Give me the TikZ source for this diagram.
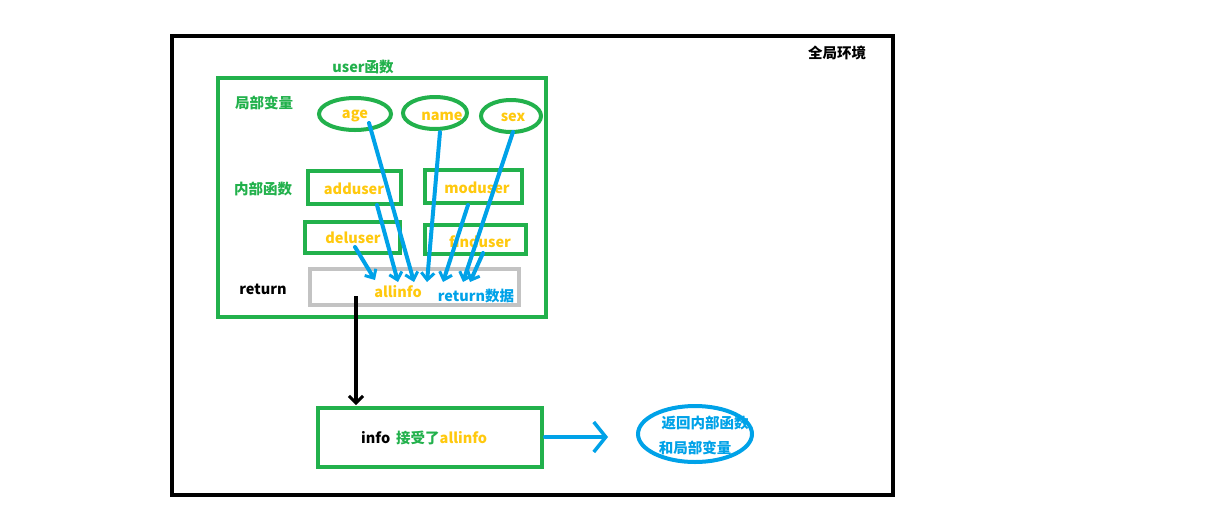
\documentclass[tikz,border=0pt]{standalone}
\usepackage{fontspec}
\setmainfont{Noto Sans CJK SC}
\usetikzlibrary{arrows.meta}
\definecolor{pgreen}{HTML}{22B14C}
\definecolor{pyellow}{HTML}{FFC90E}
\definecolor{pblue}{HTML}{00A2E8}
\definecolor{pgray}{HTML}{C3C3C3}
\begin{document}
\begin{tikzpicture}[x=1pt,y=-1pt,
  txt/.style={font=\fontsize{14.5}{16}\selectfont\bfseries, inner sep=0pt},
  gbox/.style={draw=pgreen, line width=4pt},
  barrow/.style={draw=pblue, line width=4pt, line cap=round, -{Straight Barb[length=7pt,width=13pt,line width=3pt]}},
]
\useasboundingbox (0,0) rectangle (1225,515);
\fill[white] (0,0) rectangle (1225,515);
% global
\draw[line width=4pt] (172,36) rectangle (893,495);
\node[txt] (glob) at (837,53) {全局环境};
% user function
\node[txt, text=pgreen] (ulab) at (363,67) {user函数};
\draw[gbox] (218,78) rectangle (546,317);
\node[txt, text=pgreen] (locv) at (264,103) {局部变量};
\node[txt, text=pgreen] (innf) at (263,189) {内部函数};
\node[txt] (ret) at (263,289) {return};
% ellipses
\draw[draw=pgreen, line width=4pt] (355,114) ellipse [x radius=36, y radius=16];
\draw[draw=pgreen, line width=4pt] (435,113) ellipse [x radius=32, y radius=16];
\draw[draw=pgreen, line width=4pt] (511,116) ellipse [x radius=30, y radius=16];
\node[txt, text=pyellow] (age) at (355,116) {age};
\node[txt, text=pyellow] (name) at (442,116) {name};
\node[txt, text=pyellow] (sex) at (513,117) {sex};
% function boxes
\draw[gbox] (308,171) rectangle (401,204);
\draw[gbox] (425,170) rectangle (522,203);
\draw[gbox] (305,222) rectangle (400,253);
\draw[gbox] (425,225) rectangle (526,254);
\node[txt, text=pyellow] (add) at (354,189) {adduser};
\node[txt, text=pyellow] (mod) at (477,188) {moduser};
\node[txt, text=pyellow] (del) at (353,238) {deluser};
\node[txt, text=pyellow] (find) at (480,242) {finduser};
% return box
\draw[draw=pgray, line width=4pt] (310,269) rectangle (519,305);
\node[txt, text=pyellow] (all) at (398,292) {allinfo};
\node[txt, text=pblue] (retd) at (476,296) {return数据};
% blue arrows
\coordinate (a1s) at (369,123); \coordinate (a1e) at (414,282);
\coordinate (a2s) at (377,205); \coordinate (a2e) at (398,282);
\coordinate (a3s) at (355,247); \coordinate (a3e) at (375,280);
\coordinate (a4s) at (440,132); \coordinate (a4e) at (427,282);
\coordinate (a5s) at (468,205); \coordinate (a5e) at (443,282);
\coordinate (a6s) at (513,132); \coordinate (a6e) at (463,282);
\coordinate (a7s) at (483,253); \coordinate (a7e) at (470,282);
\foreach \i in {1,...,7} {\draw[barrow] (a\i s) -- (a\i e);}
% black arrow
\coordinate (bs) at (356,296);
\coordinate (be) at (356,405);
\draw[line width=4pt, -{Straight Barb[length=7pt,width=14pt,line width=3pt]}] (bs) -- (be);
% info box
\draw[gbox] (318,408) rectangle (542,467);
\node[txt, anchor=west] (info) at (361,438) {info\hspace{6pt}\textcolor{pgreen}{接受了}\textcolor{pyellow}{allinfo}};
% right arrow
\coordinate (rs) at (545,437);
\coordinate (re) at (608,437);
\draw[draw=pblue, line width=4pt, line cap=round, -{Straight Barb[length=12pt,width=30pt,line width=3.5pt]}] (rs) -- (re);
% result ellipse
\draw[draw=pblue, line width=4pt] (695,434) ellipse [x radius=57, y radius=28];
\node[txt, text=pblue] (r1) at (705,423) {返回内部函数};
\node[txt, text=pblue] (r2) at (695,448) {和局部变量};
\end{tikzpicture}
\end{document}
